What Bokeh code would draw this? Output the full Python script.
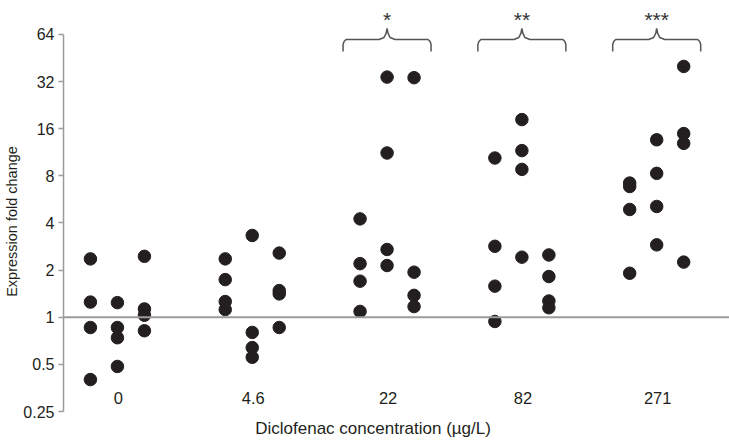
import math
from bokeh.plotting import figure
from bokeh.models import Range1d, FixedTicker, CustomJSTickFormatter, Span
from bokeh.core.properties import value
from bokeh.embed import file_html
from bokeh.resources import INLINE

# ---------------- data ----------------
conc_labels = ["0", "4.6", "22", "82", "271"]
x_title = "Diclofenac concentration (µg/L)"
y_title = "Expression fold change"
y_ticks = [0.25, 0.5, 1, 2, 4, 8, 16, 32, 64]

# three sub-columns (replicate series) per concentration
conc_0 = [[2.36, 1.25, 0.86, 0.40], [1.24, 0.86, 0.74, 0.485], [2.45, 1.13, 1.03, 0.82]]
conc_4_6 = [[2.36, 1.74, 1.26, 1.12], [3.33, 0.80, 0.64, 0.555], [2.57, 1.48, 1.41, 0.86]]
conc_22 = [[4.25, 2.2, 1.7, 1.09], [34.2, 11.2, 2.71, 2.14], [33.9, 1.94, 1.38, 1.17]]
conc_82 = [[10.4, 2.84, 1.58, 0.94], [18.3, 11.6, 8.8, 2.42], [2.5, 1.82, 1.27, 1.15]]
conc_271 = [[7.2, 6.84, 4.88, 1.91], [13.6, 8.3, 5.1, 2.9], [40.0, 14.9, 12.9, 2.25]]
groups = [conc_0, conc_4_6, conc_22, conc_82, conc_271]

significance = ["", "", "*", "**", "***"]

# ---------------- layout constants ----------------
W, H = 729, 442
LEFT = 63
X_START, X_END = 0.6, 5.54
Y_MIN, Y_MAX = 0.1585, 105.5
PX_X = (W - LEFT) / (X_END - X_START)
PX_Y = H / math.log2(Y_MAX / Y_MIN)  # px per doubling

SUB_OFFSET = 27 / PX_X
DOT = "#231F20"
TXT = "#231F20"
GREY = "#9B9B9B"
FONT = "Liberation Sans"


def y_shift(v, px):
    return v * 2 ** (px / PX_Y)


# ---------------- figure ----------------
p = figure(width=W, height=H, y_axis_type="log", output_backend="svg",
           toolbar_location=None, x_axis_location=None,
           x_range=Range1d(X_START, X_END), y_range=Range1d(Y_MIN, Y_MAX),
           min_border_left=LEFT, min_border_right=0, min_border_top=0, min_border_bottom=0)
p.outline_line_color = None
p.grid.visible = False
p.background_fill_color = "white"
p.border_fill_color = "white"

ax = p.yaxis[0]
ax.bounds = (0.25, 64)
ax.ticker = FixedTicker(ticks=y_ticks, minor_ticks=[])
ax.formatter = CustomJSTickFormatter(code="return String(tick)")
ax.axis_line_color = GREY
ax.axis_line_width = 1.5
ax.major_tick_line_color = GREY
ax.major_tick_line_width = 1.5
ax.major_tick_out = 5
ax.major_tick_in = 0
ax.minor_tick_line_color = None
ax.major_label_standoff = 4
ax.major_label_text_font = FONT
ax.major_label_text_font_size = "16px"
ax.major_label_text_color = TXT
ax.axis_label = y_title
ax.axis_label_text_font = FONT
ax.axis_label_text_font_size = "14.5px"
ax.axis_label_text_font_style = "normal"
ax.axis_label_text_color = TXT
ax.axis_label_standoff = 0

# reference line at fold change 1
p.add_layout(Span(location=1, dimension="width", line_color=GREY, line_width=2))

# points
xs, ys = [], []
for gi, grp in enumerate(groups):
    center = gi + 1
    for si, col in enumerate(grp):
        for v in col:
            xs.append(center + (si - 1) * SUB_OFFSET)
            ys.append(v)
p.scatter(x=xs, y=ys, size=12.5, fill_color=DOT, line_color=DOT)

# category labels
cats = [i + 1 for i in range(len(conc_labels))]
p.text(x=cats, y=[y_shift(0.25, 14)] * len(cats), text=conc_labels, x_offset=1,
       text_align="center", text_baseline="middle", text_font=value(FONT),
       text_font_size="16.5px", text_color=TXT)

# x axis title
p.text(x=[3], y=[y_shift(0.25, -17)], text=[x_title], x_offset=-14,
       text_align="center", text_baseline="middle", text_font=value(FONT),
       text_font_size="17px", text_color=TXT)

# braces with significance stars
BRACE_LEVEL = 59.5
brace_px = [(-44, -12), (-44, -5), (-43, -2), (-41, 0), (-8, 0), (-3, 2), (-1, 6), (0, 11),
            (1, 6), (3, 2), (8, 0), (41, 0), (43, -2), (44, -5), (44, -12)]
for gi, sig in enumerate(significance):
    if not sig:
        continue
    c = gi + 1
    bx = [c + dx / PX_X for dx, dy in brace_px]
    by = [y_shift(BRACE_LEVEL, dy) for dx, dy in brace_px]
    p.line(bx, by, line_color="#555555", line_width=1.5)
    p.text(x=[c], y=[y_shift(BRACE_LEVEL, 20)], text=[sig], text_align="center",
           text_baseline="alphabetic", text_font=value(FONT), text_font_size="21px",
           text_color="#333333")

open("out.html", "w").write(file_html(p, INLINE))
